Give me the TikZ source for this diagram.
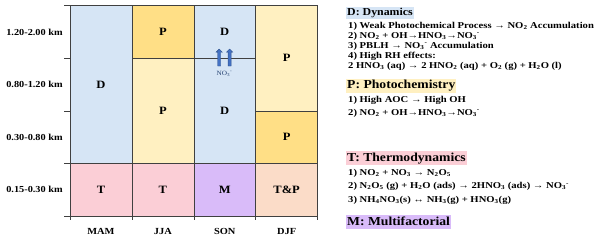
\documentclass[tikz,border=0pt]{standalone}
\usepackage{fontspec}
\setmainfont{Liberation Serif}[FakeStretch=1.12]
\newfontfamily\legfont{Liberation Serif}[FakeStretch=1.18]
\usetikzlibrary{positioning,shapes.arrows}

\definecolor{dynblue}{HTML}{D6E5F5}
\definecolor{phlight}{HTML}{FFF0C1}
\definecolor{phgold}{HTML}{FFDF86}
\definecolor{thpink}{HTML}{FBCED6}
\definecolor{mfpurple}{HTML}{D9BBF9}
\definecolor{tppeach}{HTML}{FBDCC8}
\definecolor{arrblue}{HTML}{4472C4}
\definecolor{arrline}{HTML}{2F528F}

\newcommand{\dn}[1]{\textsubscript{#1}}
\newcommand{\up}[1]{\textsuperscript{#1}}

\begin{document}
\begin{tikzpicture}[
  x=1pt, y=-1pt,
  cell/.style={draw=black!75, line width=0.5pt, minimum width=61.9pt, inner sep=0pt, font=\fontsize{11.2}{13}\selectfont\bfseries},
  rowlab/.style={font=\fontsize{9.2}{11}\selectfont\bfseries},
  collab/.style={font=\fontsize{9.3}{11}\selectfont\bfseries},
  tick/.style={draw=black!75, line width=0.5pt},
  uparrow/.style={single arrow, draw=arrline, fill=arrblue, line width=0.4pt, rotate=90, minimum height=17pt, inner sep=1.3pt, single arrow head extend=1.6pt},
  headsmall/.style={anchor=west, inner sep=1pt, text height=7.5pt, text depth=2.5pt, font=\fontsize{10.6}{12}\selectfont\bfseries},
  headbig/.style={anchor=west, inner sep=1pt, text height=9pt, text depth=3pt, font=\fontsize{12.2}{14}\selectfont\bfseries},
  body/.style={anchor=base west, inner sep=0pt, font=\legfont\fontsize{9.0}{11}\selectfont\bfseries}
]
\useasboundingbox (0,0) rectangle (600,240);

% grid cells
\node[cell, fill=dynblue,  minimum height=157.8pt] (mamD)  at (100.95,84.6)  {D};
\node[cell, fill=thpink,   minimum height=52.6pt]  (mamT)  at (100.95,189.8) {T};
\node[cell, fill=phgold,   minimum height=52.6pt]  (jjaP1) at (162.85,32)    {P};
\node[cell, fill=phlight,  minimum height=105.2pt] (jjaP2) at (162.85,110.9) {P};
\node[cell, fill=thpink,   minimum height=52.6pt]  (jjaT)  at (162.85,189.8) {T};
\node[cell, fill=dynblue,  minimum height=52.6pt]  (sonD1) at (224.75,32)    {D};
\node[cell, fill=dynblue,  minimum height=105.2pt] (sonD2) at (224.75,110.9) {D};
\node[cell, fill=mfpurple, minimum height=52.6pt]  (sonM)  at (224.75,189.8) {M};
\node[cell, fill=phlight,  minimum height=105.2pt] (djfP1) at (286.65,58.3)  {P};
\node[cell, fill=phgold,   minimum height=52.6pt]  (djfP2) at (286.65,137.2) {P};
\node[cell, fill=tppeach,  minimum height=52.6pt]  (djfTP) at (286.65,189.8) {T\&P};

% axis ticks
\foreach \yy in {5.7,58.3,110.9,163.5,216.1}
  \draw[tick] (64,\yy) -- (70,\yy);
\foreach \xx in {70,131.9,193.8,255.7,317.6}
  \draw[tick] (\xx,216.1) -- (\xx,220.5);

% height labels
\node[rowlab] (h4) at (34.5,32)    {1.20-2.00 km};
\node[rowlab] (h3) at (34.5,84.6)  {0.80-1.20 km};
\node[rowlab] (h2) at (34.5,137.2) {0.30-0.80 km};
\node[rowlab] (h1) at (34.5,189.8) {0.15-0.30 km};

% season labels
\node[collab] (smam) at (100.95,231.5) {MAM};
\node[collab] (sjja) at (162.85,231.5) {JJA};
\node[collab] (sson) at (224.75,231.5) {SON};
\node[collab] (sdjf) at (286.65,231.5) {DJF};

% nitrate transport
\node[uparrow] (up1) at (219.2,58.3) {};
\node[uparrow] (up2) at (229.6,58.3) {};
\node[font=\fontsize{6.5}{7}\selectfont, text=arrline!80!black, inner sep=0pt] (no3) at (224.5,73.5) {NO\dn{3}\up{-}};

% legend text
\node[headsmall, fill=dynblue] (dhead) at (346,13) {D: Dynamics};
\node[body] (dl1) at (348,28.5) {1) Weak Photochemical Process → NO\dn{2} Accumulation};
\node[body] (dl2) at (348,38.5) {2) NO\dn{2} + OH→HNO\dn{3}→NO\dn{3}\up{-}};
\node[body] (dl3) at (348,48.5) {3) PBLH → NO\dn{3}\up{-} Accumulation};
\node[body] (dl4) at (348,58.5) {4) High RH effects:};
\node[body] (dl5) at (348,68.5) {2 HNO\dn{3} (aq) → 2 HNO\dn{2} (aq) + O\dn{2} (g) + H\dn{2}O (l)};

\node[headbig, fill=phlight] (phead) at (346,86) {P: Photochemistry};
\node[body] (pl1) at (348,103) {1) High AOC → High OH};
\node[body] (pl2) at (348,115.5) {2) NO\dn{2} + OH→HNO\dn{3}→NO\dn{3}\up{-}};

\node[headbig, fill=thpink] (thead) at (346,158.5) {T: Thermodynamics};
\node[body] (tl1) at (348,175.5) {1) NO\dn{2} + NO\dn{3} → N\dn{2}O\dn{5}};
\node[body] (tl2) at (348,189) {2) N\dn{2}O\dn{5} (g) + H\dn{2}O (ads) → 2HNO\dn{3} (ads) → NO\dn{3}\up{-}};
\node[body] (tl3) at (348,202.5) {3) NH\dn{4}NO\dn{3}(s) ↔ NH\dn{3}(g) + HNO\dn{3}(g)};

\node[headbig, fill=mfpurple] (mhead) at (346,222.5) {M: Multifactorial};
\end{tikzpicture}
\end{document}
